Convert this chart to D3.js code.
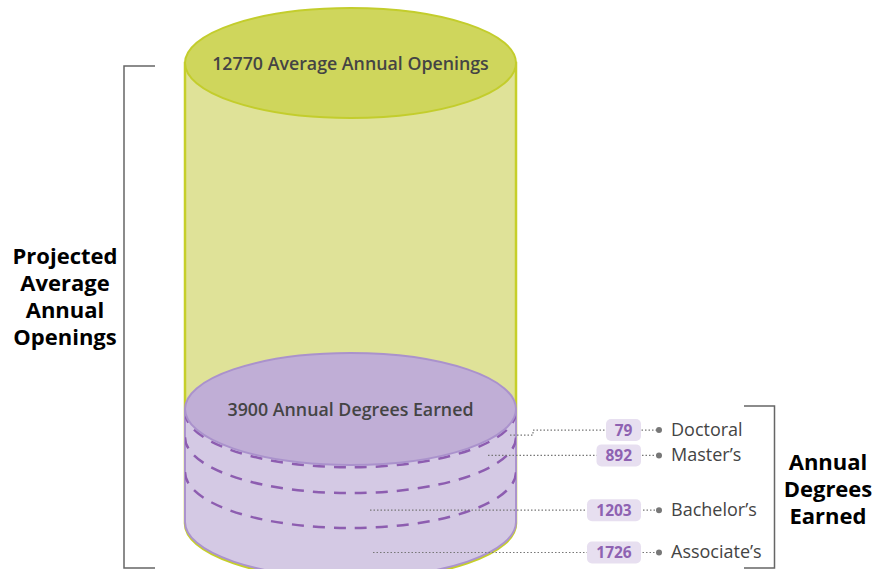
<!DOCTYPE html>
<html>
<head>
<meta charset="utf-8">
<script src="https://cdn.jsdelivr.net/npm/d3@7"></script>
<style>
    body { margin: 0; background: #fff; }
    svg { display: block; font-family: "Open Sans", Lato, sans-serif; }
</style>
</head>
<body>
<div id="canvas"></div>
<script>
"use strict"

/* Data */
let openingsTotal = 12770;
let degreesTotal = 3900;
let degreeLevels = ["Doctoral", "Master\u2019s", "Bachelor\u2019s", "Associate\u2019s"];
let degreeValues = [79, 892, 1203, 1726];
let leftLabel = ["Projected", "Average", "Annual", "Openings"];
let rightLabel = ["Annual", "Degrees", "Earned"];

/* Configuration variables: drawing */
let svgWidth = 876;
let svgHeight = 569;
let cx = 350.5;
let rx = 165.5;
let greenTop = 63;
let purpleTop = 409;
let bottomY = 522;
let ry = 56;

let svg = d3.select("#canvas")
    .append("svg")
    .attr("width", svgWidth)
    .attr("height", svgHeight);

/* Scales: openings fill the big cylinder, degrees fill the small one */
let openingsY = d3.scaleLinear()
    .domain([0, openingsTotal])
    .range([greenTop, bottomY]);

let degreesY = d3.scaleLinear()
    .domain([0, degreesTotal])
    .range([purpleTop, bottomY]);

function bodyPath(top, bottom) {
    return "M" + (cx - rx) + "," + top +
        " L" + (cx - rx) + "," + bottom +
        " A" + rx + "," + ry + " 0 0 0 " + (cx + rx) + "," + bottom +
        " L" + (cx + rx) + "," + top + " Z";
}

/* Big green cylinder */
svg.append("path")
    .attr("d", bodyPath(openingsY(0), openingsY(openingsTotal) + 1.5))
    .attr("fill", "#dfe298")
    .attr("stroke", "#c6cf2a")
    .attr("stroke-width", 2.5);

svg.append("ellipse")
    .attr("cx", cx)
    .attr("cy", openingsY(0))
    .attr("rx", rx)
    .attr("ry", 55)
    .attr("fill", "#cfd65c")
    .attr("stroke", "#c3cd2c")
    .attr("stroke-width", 2);

svg.append("text")
    .attr("x", cx)
    .attr("y", openingsY(0) + 7)
    .attr("text-anchor", "middle")
    .attr("font-size", 17.8)
    .attr("font-weight", 600)
    .attr("fill", "#444")
    .text(openingsTotal + " Average Annual Openings");

/* Purple cylinder */
svg.append("path")
    .attr("d", bodyPath(degreesY(0), degreesY(degreesTotal)))
    .attr("fill", "#d4c9e4")
    .attr("stroke", "#ab93cd")
    .attr("stroke-width", 2);

svg.append("clipPath")
    .attr("id", "cylClip")
    .append("path")
    .attr("d", bodyPath(degreesY(0), degreesY(degreesTotal)));

let cumulative = d3.cumsum(degreeValues);

/* dashed boundaries between degree levels */
svg.append("g")
    .attr("clip-path", "url(#cylClip)")
    .selectAll("path")
    .data(cumulative.slice(0, -1))
    .join("path")
    .attr("d", function (d) {
        let y = degreesY(d);
        return "M" + (cx - rx) + "," + y +
            " A" + rx + "," + ry + " 0 0 0 " + (cx + rx) + "," + y;
    })
    .attr("fill", "none")
    .attr("stroke", "#8d5db0")
    .attr("stroke-width", 2.5)
    .attr("stroke-dasharray", "12,9");

svg.append("ellipse")
    .attr("cx", cx)
    .attr("cy", degreesY(0))
    .attr("rx", rx)
    .attr("ry", ry)
    .attr("fill", "#c0aed6")
    .attr("stroke", "#aa92cc")
    .attr("stroke-width", 2);

svg.append("text")
    .attr("x", cx)
    .attr("y", degreesY(0) + 7)
    .attr("text-anchor", "middle")
    .attr("font-size", 17.8)
    .attr("font-weight", 600)
    .attr("fill", "#444")
    .text(degreesTotal + " Annual Degrees Earned");

/* Callouts for each degree level */
let anchorX = [510, 488, 370, 373];
let boxRight = 641;
let dotX = 659;

let rows = degreeLevels.map(function (name, i) {
    let mid = degreesY(cumulative[i] - degreeValues[i] / 2);
    let dx = (anchorX[i] - cx) / rx;
    let y = mid + ry * Math.sqrt(1 - dx * dx);
    return { name: name, value: degreeValues[i], x: anchorX[i], y: y };
});
/* keep the top row clear of the rim */
rows[0].rowY = rows[0].y + 5;
rows[0].y = rows[0].y + 10;
rows.forEach(function (r, i) { if (i > 0) r.rowY = r.y; });

let callouts = svg.append("g");

callouts.selectAll(".leader")
    .data(rows)
    .join("path")
    .attr("class", "leader")
    .attr("d", function (r) {
        if (r.rowY !== r.y) {
            return "M" + r.x + "," + r.y + " H533 V" + r.rowY + " H" + dotX;
        }
        return "M" + r.x + "," + r.y + " H" + dotX;
    })
    .attr("fill", "none")
    .attr("stroke", "#777")
    .attr("stroke-width", 1.2)
    .attr("stroke-dasharray", "1.5,2");

callouts.selectAll(".dot")
    .data(rows)
    .join("circle")
    .attr("class", "dot")
    .attr("cx", dotX)
    .attr("cy", function (r) { return r.rowY; })
    .attr("r", 3)
    .attr("fill", "#777");

function boxWidth(r) {
    return String(r.value).length * 9.5 + 16;
}

let boxes = callouts.selectAll(".box")
    .data(rows)
    .join("g")
    .attr("class", "box")
    .attr("transform", function (r) { return "translate(" + boxRight + "," + r.rowY + ")"; });

boxes.append("rect")
    .attr("x", function (r) { return -boxWidth(r); })
    .attr("y", -11)
    .attr("width", boxWidth)
    .attr("height", 22)
    .attr("rx", 5)
    .attr("fill", "#e7dff0");

boxes.append("text")
    .attr("x", function (r) { return -boxWidth(r) / 2; })
    .attr("y", 5.5)
    .attr("text-anchor", "middle")
    .attr("font-size", 15.5)
    .attr("font-weight", 700)
    .attr("fill", "#8e62b2")
    .text(function (r) { return r.value; });

callouts.selectAll(".level")
    .data(rows)
    .join("text")
    .attr("class", "level")
    .attr("x", 671)
    .attr("y", function (r) { return r.rowY + 6; })
    .attr("font-size", 18)
    .attr("fill", "#444")
    .text(function (r) { return r.name; });

/* Brackets */
svg.append("path")
    .attr("d", "M155,66 H124 V568 H155")
    .attr("fill", "none")
    .attr("stroke", "#666")
    .attr("stroke-width", 1.5);

svg.append("path")
    .attr("d", "M744,406 H774.5 V568 H744")
    .attr("fill", "none")
    .attr("stroke", "#666")
    .attr("stroke-width", 1.5);

/* Bracket labels */
svg.append("text")
    .attr("text-anchor", "middle")
    .attr("font-size", 22)
    .attr("font-weight", 700)
    .attr("fill", "#000")
    .selectAll("tspan")
    .data(leftLabel)
    .join("tspan")
    .attr("x", 65)
    .attr("y", function (d, i) { return 264 + i * 27; })
    .text(function (d) { return d; });

svg.append("text")
    .attr("text-anchor", "middle")
    .attr("font-size", 22)
    .attr("font-weight", 700)
    .attr("fill", "#000")
    .selectAll("tspan")
    .data(rightLabel)
    .join("tspan")
    .attr("x", 828)
    .attr("y", function (d, i) { return 470 + i * 27; })
    .text(function (d) { return d; });
</script>
</body>
</html>
